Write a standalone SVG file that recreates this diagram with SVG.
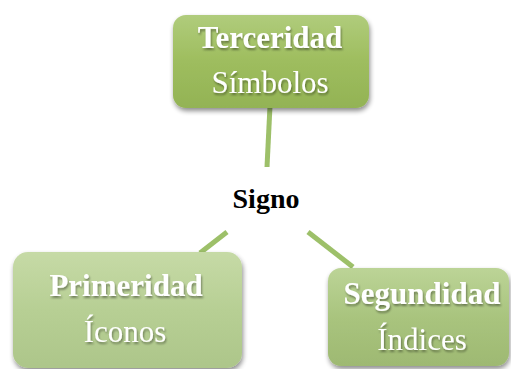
<svg xmlns="http://www.w3.org/2000/svg" width="511" height="369" viewBox="0 0 511 369">
<defs>
<linearGradient id="g1" x1="0" y1="0" x2="0" y2="1">
<stop offset="0" stop-color="#b0cc7c"/><stop offset="0.5" stop-color="#9ebd5e"/><stop offset="1" stop-color="#93b355"/>
</linearGradient>
<linearGradient id="g2" x1="0" y1="0" x2="0" y2="1">
<stop offset="0" stop-color="#c6daa6"/><stop offset="0.5" stop-color="#b7cf94"/><stop offset="1" stop-color="#adc68a"/>
</linearGradient>
<linearGradient id="g3" x1="0" y1="0" x2="0" y2="1">
<stop offset="0" stop-color="#bcd497"/><stop offset="0.5" stop-color="#a9c47e"/><stop offset="1" stop-color="#9eb972"/>
</linearGradient>
<filter id="sh" x="-10%" y="-10%" width="125%" height="130%">
<feGaussianBlur in="SourceAlpha" stdDeviation="2.5"/>
<feOffset dx="1" dy="3" result="b"/>
<feComponentTransfer><feFuncA type="linear" slope="0.45"/></feComponentTransfer>
<feMerge><feMergeNode/><feMergeNode in="SourceGraphic"/></feMerge>
</filter>
<filter id="ts" x="-5%" y="-20%" width="110%" height="150%">
<feGaussianBlur in="SourceAlpha" stdDeviation="1"/>
<feOffset dx="1" dy="1.5"/>
<feComponentTransfer><feFuncA type="linear" slope="0.4"/></feComponentTransfer>
<feMerge><feMergeNode/><feMergeNode in="SourceGraphic"/></feMerge>
</filter>
</defs>
<style>
.t{font-family:"Liberation Serif","Times New Roman",serif;font-size:31px;fill:#ffffff;text-anchor:middle}
.b{font-weight:bold}
.s{font-family:"Liberation Serif","Times New Roman",serif;font-size:28px;font-weight:bold;fill:#000000;text-anchor:middle}
.c{stroke:#9dc069;stroke-width:5;fill:none}
.box{filter:url(#sh)}
</style>
<g id="connectors">
<line class="c" x1="270" y1="106" x2="267" y2="167"/>
<line class="c" x1="227" y1="232" x2="200" y2="253"/>
<line class="c" x1="308" y1="232" x2="353" y2="267"/>
</g>
<g id="terceridad">
<rect class="box" x="173" y="15" width="196" height="93" rx="13" fill="url(#g1)"/>
<g filter="url(#ts)">
<text class="t b" x="270" y="48">Terceridad</text>
<text class="t" x="270" y="93">Símbolos</text>
</g>
</g>
<g id="signo">
<text class="s" x="266" y="208">Signo</text>
</g>
<g id="primeridad">
<rect class="box" x="13" y="252" width="229" height="116" rx="15" fill="url(#g2)"/>
<g filter="url(#ts)">
<text class="t b" x="126" y="296">Primeridad</text>
<text class="t" x="125" y="342">Íconos</text>
</g>
</g>
<g id="segundidad">
<rect class="box" x="328" y="268" width="181" height="98" rx="13" fill="url(#g3)"/>
<g filter="url(#ts)">
<text class="t b" x="422" y="304">Segundidad</text>
<text class="t" x="422" y="350">Índices</text>
</g>
</g>
</svg>
